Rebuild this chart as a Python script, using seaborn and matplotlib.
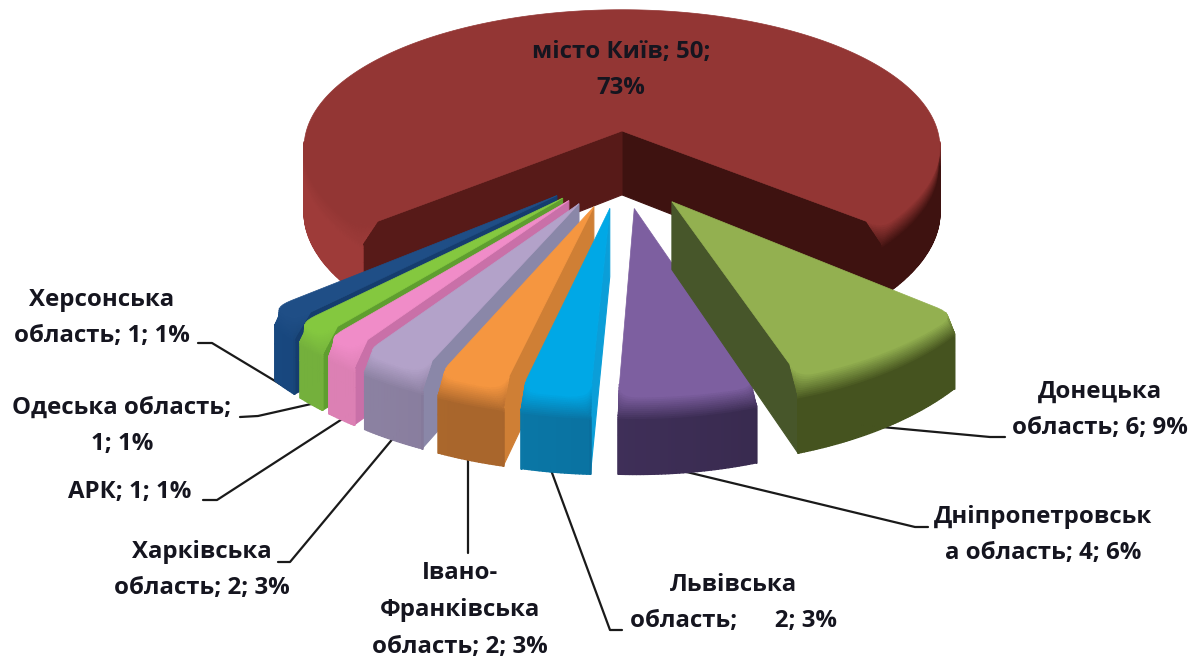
import numpy as np
import seaborn as sns
import matplotlib.pyplot as plt
from matplotlib.colors import to_rgb
from matplotlib.collections import PolyCollection

# Chart data
regions = ['місто Київ', 'Донецька область', 'Дніпропетровська область', 'Львівська область',
           'Івано-Франківська область', 'Харківська область', 'АРК', 'Одеська область', 'Херсонська область']
counts = [50, 6, 4, 2, 2, 2, 1, 1, 1]
labels = ['місто Київ; 50;\n73%', 'Донецька\nобласть; 6; 9%', 'Дніпропетровськ\nа область; 4; 6%',
          'Львівська\nобласть;      2; 3%', 'Івано-\nФранківська\nобласть; 2; 3%', 'Харківська\nобласть; 2; 3%',
          'АРК; 1; 1%', 'Одеська область;\n1; 1%', 'Херсонська\nобласть; 1; 1%']

# Slice colours
top_colors = ['#933634', '#93b050', '#7d5fa0', '#00a8e6', '#f59640', '#b3a2c9', '#f08cc8', '#84c83f', '#1f4e86']
rim_left = ['#9e3b39', '#45531f', '#40305a', '#0a79a8', '#aa672c', '#8d83a3', '#dc80b4', '#74b03c', '#184880']
rim_right = ['#3e1210', '#45531f', '#382a4e', '#0a6f9e', '#a8652c', '#85799a', '#dc80b4', '#74b03c', '#184475']
wall_a = ['#3e1210', '#47562a', '#40305a', '#0a79a8', '#aa672c', '#8d83a3', '#c970a8', '#5f9e2f', '#153d6e']
wall_b = ['#571a18', '#47562a', '#40305a', '#0b9ed8', '#cf7f35', '#8a87a8', '#c970a8', '#5f9e2f', '#153d6e']

# Projection of the tilted pie onto the picture
CX, CY = 622, 168.4
R, TILT, PERSP, DEPTH = 326, 0.444, 0.123, 66
EXPLODE = 0.267
FILLET = 0.055
BANDS = np.r_[np.linspace(0, 0.3, 13), 0.5, 1.0]


def project(x, y, z=0.0):
    """Pie coordinates (y up, z down through the slice) to picture pixels"""
    y = np.asarray(y, dtype=float)
    scale = 1 / (1 + PERSP * y)
    front = np.maximum(-y, 0) ** 2 * 7
    return CX + R * np.asarray(x) * scale, CY - R * TILT * y * scale + front + DEPTH * z * scale


def blend(c1, c2, f):
    c1, c2 = np.array(to_rgb(c1)), np.array(to_rgb(c2))
    return tuple(c1 + (c2 - c1) * f)


def outline(wedge, z):
    """Outer edge of a slice at depth z, corners are round at the top and sharp lower down"""
    cx, cy = wedge.center
    t1, t2 = np.radians(wedge.theta1), np.radians(wedge.theta2)
    fillet = FILLET * max(0, 1 - z / 0.25)
    cut = min(fillet, (t2 - t1) * 0.35)
    arc = np.linspace(t1 + cut, t2 - cut, max(int(wedge.theta2 - wedge.theta1) * 2, 8))
    u = np.linspace(0, 1, 7)[:, None]

    def corner(t_edge, t_arc):
        p0 = np.array([np.cos(t_edge), np.sin(t_edge)]) * (1 - fillet)
        p1 = np.array([np.cos(t_edge), np.sin(t_edge)])
        p2 = np.array([np.cos(t_arc), np.sin(t_arc)])
        return (1 - u) ** 2 * p0 + 2 * u * (1 - u) * p1 + u ** 2 * p2

    pts = np.vstack([corner(t1, t1 + cut),
                     np.c_[np.cos(arc), np.sin(arc)][1:-1],
                     corner(t2, t2 - cut)[::-1]])
    return cx + pts[:, 0], cy + pts[:, 1]


def draw_slice(ax, wedge, i):
    cx, cy = wedge.center
    rings = [project(*outline(wedge, z), z) for z in BANDS]
    top_x, top_y = rings[0]
    vx, vy = project(cx, cy)
    bx, by = project(cx, cy, 1)

    # straight walls, only those turned to the viewer
    if top_x[0] > vx:
        xs = [vx] + [r[0][0] for r in rings] + [bx]
        ys = [vy] + [r[1][0] for r in rings] + [by]
        ax.fill(xs, ys, color=wall_a[i], lw=0.8, zorder=i_order[i])
    if top_x[-1] < vx:
        xs = [vx] + [r[0][-1] for r in rings] + [bx]
        ys = [vy] + [r[1][-1] for r in rings] + [by]
        ax.fill(xs, ys, color=wall_b[i], lw=0.8, zorder=i_order[i])

    # outer rim in thin strips, lighter at the top edge
    polys, cols = [], []
    lo, hi = top_x.min(), top_x.max()
    for k in range(len(top_x) - 1):
        if rings[-1][0][k + 1] <= rings[-1][0][k] and top_x[k + 1] <= top_x[k]:
            continue
        f = (top_x[k] - lo) / max(hi - lo, 1)
        if i == 0:
            f = np.clip((f - 0.35) / 0.3, 0, 1)
        base = blend(rim_left[i], rim_right[i], f)
        for b, (r0, r1) in enumerate(zip(rings[:-1], rings[1:])):
            polys.append([(r0[0][k], r0[1][k]), (r0[0][k + 1], r0[1][k + 1]),
                          (r1[0][k + 1], r1[1][k + 1]), (r1[0][k], r1[1][k])])
            cols.append(blend(top_colors[i], base, min(BANDS[b] / 0.3, 1)))
    if polys:
        ax.add_collection(PolyCollection(polys, facecolors=cols, edgecolors=cols, linewidths=1.0,
                                         zorder=i_order[i] + 0.1))

    # top surface
    ax.fill(np.r_[vx, top_x], np.r_[vy, top_y], color=top_colors[i], lw=0.5, zorder=i_order[i] + 0.2)


sns.set_theme(style='white')
plt.rcParams['font.family'] = ['Open Sans', 'DejaVu Sans']

fig = plt.figure(figsize=(12.04, 6.59), dpi=100)

# the pie gives the angles and the exploded offsets of the slices
pie_ax = fig.add_axes([0, 0, 0.1, 0.1])
wedges, _ = pie_ax.pie(counts, explode=[EXPLODE] * len(counts), counterclock=False,
                       startangle=90 + 180 * counts[0] / sum(counts))
pie_ax.set_visible(False)

ax = fig.add_axes([0, 0, 1, 1])
ax.set_xlim(0, 1204)
ax.set_ylim(659, 0)
ax.axis('off')

# back to front, Київ first, then from the left round to the Донецька slice
order = [0, 8, 7, 6, 5, 4, 3, 2, 1]
i_order = {s: 2 + n for n, s in enumerate(order)}
for i in order:
    draw_slice(ax, wedges[i], i)

# label centres and leader lines
label_x = [621, 1100, 1043, 733, 460, 202, 130, 122, 102]
label_y = [70, 410, 535, 603, 610, 570, 492, 426, 318]
leaders = [None,
           [(860, 425), (990, 437), (1005, 437)],
           [(670, 468), (915, 527), (928, 527)],
           [(548, 462), (610, 630), (622, 630)],
           [(468, 450), (468, 553)],
           [(400, 430), (290, 562), (278, 562)],
           [(350, 414), (217, 500), (203, 500)],
           [(320, 402), (258, 416), (240, 417)],
           [(290, 390), (212, 343), (198, 343)]]

for i in range(len(counts)):
    ax.text(label_x[i], label_y[i], labels[i], ha='center', va='center', fontsize=17.3, fontweight='bold',
            color='#15151f', linespacing=1.7, zorder=20)
    if leaders[i]:
        xs, ys = zip(*leaders[i])
        ax.plot(xs, ys, color='#1a1a1a', lw=1.6, zorder=1.5)

fig.savefig('out.png', dpi=100, facecolor='white')
